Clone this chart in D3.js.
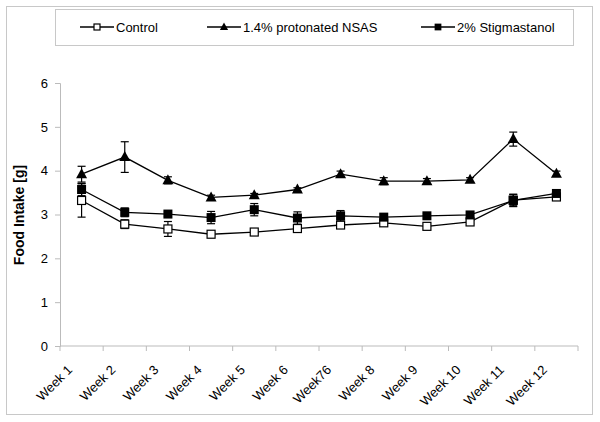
<!DOCTYPE html>
<html><head><meta charset="utf-8">
<script src="https://cdn.jsdelivr.net/npm/d3@7"></script>
<style>body{margin:0;background:#fff}svg{display:block;font-family:"Liberation Sans",Arial,sans-serif}</style>
</head><body>
<svg id="c" width="600" height="422"></svg>
<script>
const categories = ["Week 1","Week 2","Week 3","Week 4","Week 5","Week 6","Week76","Week 8","Week 9","Week 10","Week 11","Week 12"];
const controlMean = [3.32,2.78,2.67,2.55,2.60,2.68,2.76,2.81,2.73,2.83,3.33,3.40];
const controlErr  = [0.38,0.10,0.17,0.03,0.03,0.06,0.04,0.05,0.06,0.04,0.13,0.04];
const nsasMean = [3.92,4.31,3.78,3.39,3.44,3.57,3.92,3.76,3.76,3.79,4.72,3.93];
const nsasErr  = [0.18,0.35,0.08,0.05,0.04,0.04,0.07,0.08,0.06,0.05,0.16,0.06];
const stigMean = [3.57,3.05,3.01,2.93,3.11,2.92,2.97,2.94,2.97,2.99,3.32,3.48];
const stigErr  = [0.14,0.10,0.05,0.14,0.14,0.14,0.12,0.07,0.05,0.05,0.14,0.07];
const yTicks = [0,1,2,3,4,5,6];
const seriesNames = ["Control","1.4% protonated NSAS","2% Stigmastanol"];

const svg = d3.select("#c");
svg.append("rect").attr("x",6.5).attr("y",6.5).attr("width",586).attr("height",408)
  .attr("fill","#fff").attr("stroke","#c8c8c8");

const x = d3.scaleBand().domain(categories).range([60,578]);
const y = d3.scaleLinear().domain([0,6]).range([346,83]);

const gy = svg.append("g").attr("transform","translate(60,0)")
  .call(d3.axisLeft(y).tickValues(yTicks).tickSize(5).tickPadding(7).tickFormat(d3.format("d")));
gy.select(".domain").attr("stroke","#bbb");
gy.selectAll(".tick line").attr("stroke","#bbb");
gy.selectAll("text").attr("font-size",13).attr("fill","#000");

const gx = svg.append("g").attr("transform","translate(0,346)");
gx.append("line").attr("x1",60).attr("x2",578).attr("stroke","#bbb");
const bounds = categories.map(c=>x(c)).concat([x.range()[1]]);
gx.selectAll("line.tk").data(bounds).join("line").attr("class","tk")
  .attr("x1",d=>d).attr("x2",d=>d).attr("y1",0).attr("y2",5).attr("stroke","#bbb");
gx.selectAll("text").data(categories).join("text")
  .attr("transform",d=>`translate(${x(d)+x.bandwidth()/2-8.5},${24.7}) rotate(-45)`)
  .attr("text-anchor","end").attr("font-size",13).text(d=>d);

svg.append("text").attr("transform","translate(24,215) rotate(-90)")
  .attr("text-anchor","middle").attr("font-size",14).attr("font-weight","bold").text("Food Intake [g]");

const cx = d => x(d)+x.bandwidth()/2;
const series = [
  {name:seriesNames[0], mean:controlMean, err:controlErr, marker:"open"},
  {name:seriesNames[1], mean:nsasMean, err:nsasErr, marker:"tri"},
  {name:seriesNames[2], mean:stigMean, err:stigErr, marker:"sq"}
];
function drawMarker(g, type, px, py, s){
  s = s||1;
  if(type==="tri"){
    g.append("path").attr("d",`M${px},${py-6*s}L${px+5.5*s},${py+4*s}L${px-5.5*s},${py+4*s}Z`).attr("fill","#000");
  } else if(type==="sq"){
    g.append("rect").attr("x",px-4.5*s).attr("y",py-4.5*s).attr("width",9*s).attr("height",9*s).attr("fill","#000");
  } else {
    g.append("rect").attr("x",px-4*s).attr("y",py-4*s).attr("width",8*s).attr("height",8*s).attr("fill","#fff").attr("stroke","#000").attr("stroke-width",1.2);
  }
}
const line = d3.line().x((d,i)=>cx(categories[i])).y(d=>y(d));
series.forEach(s=>{
  const g = svg.append("g");
  s.mean.forEach((m,i)=>{
    const px = cx(categories[i]);
    const t = y(m+s.err[i]), b = y(m-s.err[i]);
    g.append("line").attr("x1",px).attr("x2",px).attr("y1",t).attr("y2",b).attr("stroke","#000").attr("stroke-width",1.2);
    [t,b].forEach(yy=>g.append("line").attr("x1",px-4).attr("x2",px+4).attr("y1",yy).attr("y2",yy).attr("stroke","#000").attr("stroke-width",1.2));
  });
  g.append("path").attr("d",line(s.mean)).attr("fill","none").attr("stroke","#000").attr("stroke-width",1.3);
  s.mean.forEach((m,i)=>drawMarker(g,s.marker,cx(categories[i]),y(m)));
});

const lg = svg.append("g");
lg.append("rect").attr("x",55.5).attr("y",9.5).attr("width",518).attr("height",36).attr("fill","#fff").attr("stroke","#c8c8c8");
const legX = [80,207,421];
series.forEach((s,i)=>{
  const lx = legX[i], ly = 27;
  lg.append("line").attr("x1",lx).attr("x2",lx+34).attr("y1",ly).attr("y2",ly).attr("stroke","#000").attr("stroke-width",1.3);
  drawMarker(lg,s.marker,lx+17,ly,0.75);
  lg.append("text").attr("x",lx+36).attr("y",ly).attr("dy","0.35em").attr("font-size",13).text(s.name);
});
</script>
</body></html>
